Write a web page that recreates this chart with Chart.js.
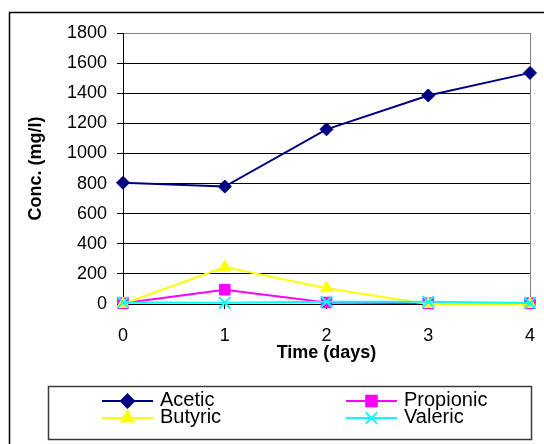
<!DOCTYPE html>
<html>
<head>
<meta charset="utf-8">
<script src="https://cdn.jsdelivr.net/npm/chart.js@4"></script>
<style>
  body { margin: 0; background: #fff; }
  #wrap { width: 544px; height: 444px; }
</style>
</head>
<body>
<div id="wrap"><canvas id="acidChart" width="544" height="444"></canvas></div>
<script>
// Volatile fatty acids over time
const days = ['0', '1', '2', '3', '4'];
const acetic = [805, 780, 1160, 1385, 1535];
const propionic = [5, 95, 10, 5, 5];
const butyric = [0, 245, 105, 0, 0];
const valeric = [10, 8, 15, 15, 6];
const yTicks = [0, 200, 400, 600, 800, 1000, 1200, 1400, 1600, 1800];

const FONT = 'Liberation Sans, Arial, sans-serif';

// white page with the outer frame
const framePlugin = {
  id: 'frame',
  beforeDraw(chart) {
    const c = chart.ctx;
    c.save();
    c.fillStyle = '#fff';
    c.fillRect(0, 0, chart.width, chart.height);
    c.strokeStyle = '#000';
    c.lineWidth = 1.5;
    c.strokeRect(9.5, 12.5, chart.width, chart.height);
    c.restore();
  }
};

// boxed legend, two columns by two rows
const boxLegend = {
  id: 'boxLegend',
  afterDraw(chart) {
    const c = chart.ctx;
    const box = { left: 48.5, top: 386.5, right: 531.5, bottom: 439.5 };
    c.save();
    c.strokeStyle = '#3a3a3a';
    c.lineWidth = 1.5;
    c.strokeRect(box.left, box.top, box.right - box.left, box.bottom - box.top);

    const cols = [102, 346];
    const rows = [401, 418];
    c.font = '20px ' + FONT;
    c.textBaseline = 'middle';
    c.textAlign = 'left';
    chart.data.datasets.forEach((ds, i) => {
      const x = cols[i % 2];
      const y = rows[Math.floor(i / 2)];
      c.strokeStyle = ds.borderColor;
      c.lineWidth = 2;
      c.beginPath();
      c.moveTo(x, y);
      c.lineTo(x + 51, y);
      c.stroke();
      c.fillStyle = ds.pointBackgroundColor;
      c.strokeStyle = ds.pointBorderColor;
      Chart.helpers.drawPoint(c, {
        pointStyle: ds.pointStyle,
        radius: ds.pointRadius,
        rotation: 0,
        borderWidth: ds.pointBorderWidth
      }, x + 25.5, y);
      c.fillStyle = '#000';
      c.fillText(ds.label, x + 58, y - 1);
    });
    c.restore();
  }
};

function series(label, data, color, style, radius, order) {
  return {
    label: label,
    data: data,
    borderColor: color,
    backgroundColor: color,
    borderWidth: 2,
    pointStyle: style,
    pointRadius: radius,
    pointHoverRadius: radius,
    pointBackgroundColor: color,
    pointBorderColor: color,
    pointBorderWidth: style === 'crossRot' ? 2 : 1,
    tension: 0,
    clip: false,
    order: order
  };
}

const ctx = document.getElementById('acidChart').getContext('2d');
const acidChart = new Chart(ctx, {
  type: 'line',
  data: {
    labels: days,
    datasets: [
      series('Acetic', acetic, '#000080', 'rectRot', 6.5, 3),
      series('Propionic', propionic, '#ff00ff', 'rect', 7.5, 2),
      series('Butyric', butyric, '#ffff00', 'triangle', 7, 1),
      series('Valeric', valeric, '#00ffff', 'crossRot', 8, 0)
    ]
  },
  options: {
    responsive: false,
    animation: false,
    events: [],
    layout: { padding: { left: 25, top: 33, right: 14, bottom: 80 } },
    plugins: {
      legend: { display: false },
      tooltip: { enabled: false }
    },
    scales: {
      x: {
        type: 'category',
        offset: false,
        grid: {
          drawOnChartArea: true,
          color: c => (c.index === days.length - 1 ? '#808080' : 'rgba(0,0,0,0)'),
          tickColor: '#000',
          tickLength: 5
        },
        border: { color: '#000', width: 1 },
        ticks: { color: '#000', font: { family: FONT, size: 18 }, padding: 16, maxRotation: 0 },
        title: {
          display: true,
          text: 'Time (days)',
          color: '#000',
          padding: 0,
          font: { family: FONT, size: 18, weight: 'bold' }
        },
        afterFit(scale) {
          scale.height = 60;
          scale.paddingLeft = 0;
          scale.paddingRight = 0;
        }
      },
      y: {
        min: 0,
        max: 1800,
        afterBuildTicks(scale) { scale.ticks = yTicks.map(v => ({ value: v })); },
        grid: {
          color: c => (c.tick && c.tick.value === 1800 ? '#808080' : '#000'),
          tickColor: '#000',
          tickLength: 6
        },
        border: { color: '#000', width: 1 },
        ticks: {
          color: '#000',
          font: { family: FONT, size: 18 },
          padding: 10,
          callback: v => String(v)
        },
        title: {
          display: true,
          text: 'Conc. (mg/l)',
          color: '#000',
          padding: 0,
          font: { family: FONT, size: 18, weight: 'bold' }
        },
        afterFit(scale) { scale.width = 98; }
      }
    }
  },
  plugins: [framePlugin, boxLegend]
});
</script>
</body>
</html>
